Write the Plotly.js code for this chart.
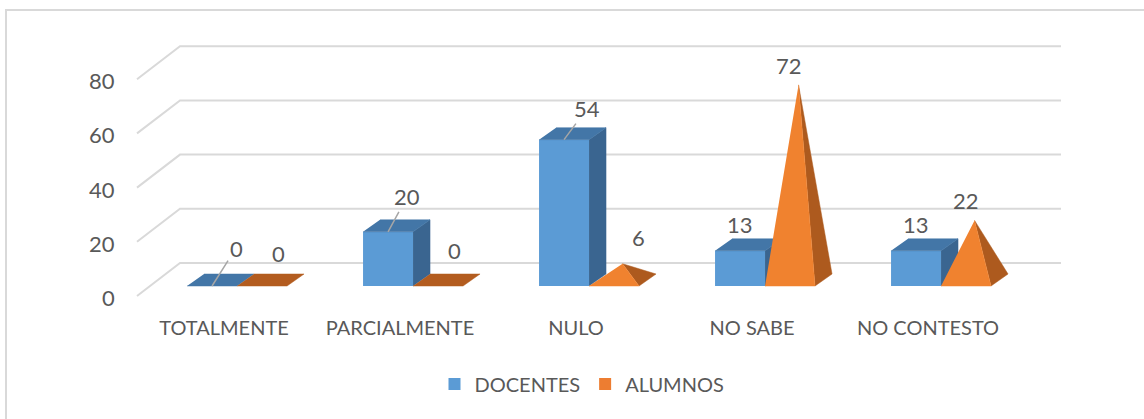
<!DOCTYPE html>
<html><head><meta charset="utf-8">
<script src="https://cdn.plot.ly/plotly-3.0.1.min.js"></script>
<style>html,body{margin:0;padding:0;background:#fff}#chart{width:1144px;height:419px}</style>
</head><body><div id="chart"></div>
<script>
// ---- data ----
const categories = ['TOTALMENTE', 'PARCIALMENTE', 'NULO', 'NO SABE', 'NO CONTESTO'];
const docentes = [0, 20, 54, 13, 13];
const alumnos = [0, 0, 6, 72, 22];
const yTicks = [0, 20, 40, 60, 80];
const seriesNames = ['DOCENTES', 'ALUMNOS'];

// ---- geometry / style ----
const W = 1144, H = 419, L = 130, B = 310;
const PXX = 176, X0PX = 224, K = 2.71, BASEPX = 286;
const xr = [(L - X0PX) / PXX, (W - X0PX) / PXX];
const yr = [(BASEPX - B) / K, BASEPX / K];
const FRONT = -10 / K, BACK = 23 / K;
const DX = 17 / PXX, DY = 12 / K;
const BW = 50 / PXX, OFF_D = -0.21, OFF_A = OFF_D + BW;
const xs = categories.map((c, i) => i);
const FONT = 'Lato, "Open Sans", sans-serif';
const TXT = '#595959';
const NUMSIZE = 22, TXTSIZE = 20;
const C = {dFront: '#5B9BD5', dTop: '#4376A7', dSide: '#3A6590',
           aFront: '#F0822F', aSide: '#AD5A1E', aFlat: '#B35C1F', grid: '#D9D9D9'};

// gridlines (back wall + floor diagonals) as shapes below traces
const xFront = (137 - X0PX) / PXX, xBackL = (180 - X0PX) / PXX, xBackR = (1061 - X0PX) / PXX;
const shapes = [];
yTicks.forEach(t => {
  shapes.push({type: 'path', xref: 'x', yref: 'y', layer: 'below',
    path: `M${xFront},${t + FRONT} L${xBackL},${t + BACK} L${xBackR},${t + BACK}`,
    line: {color: C.grid, width: 2}});
});
// chart frame
shapes.push({type: 'rect', xref: 'paper', yref: 'paper', layer: 'below',
  x0: (6 - L) / (W - L), x1: 1.05, y0: (B - 10) / B, y1: -0.6,
  line: {color: C.grid, width: 2}});

function poly(list) {
  const x = [], y = [];
  list.forEach(p => { p.forEach(q => { x.push(q[0]); y.push(q[1]); }); x.push(null); y.push(null); });
  return {x, y};
}

// DOCENTES faces
const dTop = [], dSide = [];
docentes.forEach((v, i) => {
  const x0 = i + OFF_D, x1 = x0 + BW;
  dTop.push([[x0, v], [x1, v], [x1 + DX, v + DY], [x0 + DX, v + DY]]);
  if (v > 0) dSide.push([[x1, 0], [x1 + DX, DY], [x1 + DX, v + DY], [x1, v]]);
});
// ALUMNOS pyramids
const aFlat = [], aFront = [], aSide = [];
alumnos.forEach((v, i) => {
  const x0 = i + OFF_A, x1 = x0 + BW, xc = x0 + BW / 2;
  if (v <= 0) { aFlat.push([[x0, 0], [x1, 0], [x1 + DX, DY], [x0 + DX, DY]]); return; }
  const apex = [xc + DX / 2, v + DY / 2];
  aSide.push([[x1, 0], [x1 + DX, DY], apex]);
  aFront.push([[x0, 0], [x1, 0], apex]);
});

function polyTrace(list, color) {
  const p = poly(list);
  return {type: 'scatter', mode: 'lines', x: p.x, y: p.y, fill: 'toself', fillcolor: color,
    line: {color: color, width: 0.5}, hoverinfo: 'skip', showlegend: false};
}

const traces = [
  {type: 'bar', name: seriesNames[0], x: xs, y: docentes, width: BW, offset: OFF_D,
   marker: {color: C.dFront, line: {width: 0}}, hoverinfo: 'skip'},
  {type: 'bar', name: seriesNames[1], x: xs, y: alumnos.map(() => null), width: BW, offset: OFF_A,
   marker: {color: '#ED7D31', line: {width: 0}}, hoverinfo: 'skip'},
  polyTrace(dSide, C.dSide),
  polyTrace(dTop, C.dTop),
  polyTrace(aFlat, C.aFlat),
  polyTrace(aSide, C.aSide),
  polyTrace(aFront, C.aFront)
];

// data labels (pixel offsets from front-face centre at value; leader line where Excel moved a label)
const dLabelPos = [[24, -38, true], [19, -35, true], [23, -31, true], [0, -26, false], [0, -26, false]];
const aLabelPos = [[16, -33], [16, -36], [24, -32], [-1, -25], [0, -26]];
const annotations = [];
const lblFont = {family: FONT, size: NUMSIZE, color: TXT};
docentes.forEach((v, i) => {
  const xc = i + OFF_D + BW / 2, p = dLabelPos[i];
  if (p[2]) {
    annotations.push({x: xc, y: v, xref: 'x', yref: 'y', text: String(v), showarrow: true,
      ax: p[0], ay: p[1], arrowhead: 0, arrowcolor: '#A6A6A6', arrowwidth: 1.5, standoff: 0,
      font: lblFont});
  } else {
    annotations.push({x: xc, y: v, xref: 'x', yref: 'y', text: String(v), showarrow: false,
      xshift: p[0], yshift: -p[1], font: lblFont});
  }
});
alumnos.forEach((v, i) => {
  const xc = i + OFF_A + BW / 2, p = aLabelPos[i];
  annotations.push({x: xc, y: v, xref: 'x', yref: 'y', text: String(v), showarrow: false,
    xshift: p[0], yshift: -p[1], font: lblFont});
});
// value-axis labels at the front edge of the floor/wall gridlines
yTicks.forEach(t => {
  annotations.push({x: (117 - L) / (W - L), xref: 'paper', xanchor: 'right', y: t + FRONT, yref: 'y',
    yanchor: 'middle', yshift: -1.5, text: String(t), showarrow: false, font: lblFont});
});

const layout = {
  width: W, height: H,
  margin: {l: L, r: 0, t: 0, b: H - B, pad: 0},
  paper_bgcolor: '#ffffff', plot_bgcolor: 'rgba(0,0,0,0)',
  showlegend: true,
  legend: {orientation: 'h', x: (582 - L) / (W - L), y: (B - 384) / B, xanchor: 'center', yanchor: 'middle',
    font: {family: FONT, size: TXTSIZE, color: TXT}, bgcolor: 'rgba(0,0,0,0)'},
  xaxis: {range: xr, tickvals: xs, ticktext: categories, showgrid: false, zeroline: false, showline: false,
    ticks: '', ticklabelstandoff: 4, tickfont: {family: FONT, size: TXTSIZE, color: TXT}, fixedrange: true},
  yaxis: {range: yr, showticklabels: false, showgrid: false,
    zeroline: false, showline: false, ticks: '', fixedrange: true},
  shapes: shapes,
  annotations: annotations,
  barmode: 'overlay'
};

Plotly.newPlot('chart', traces, layout, {displayModeBar: false, staticPlot: true});
</script>
</body></html>
